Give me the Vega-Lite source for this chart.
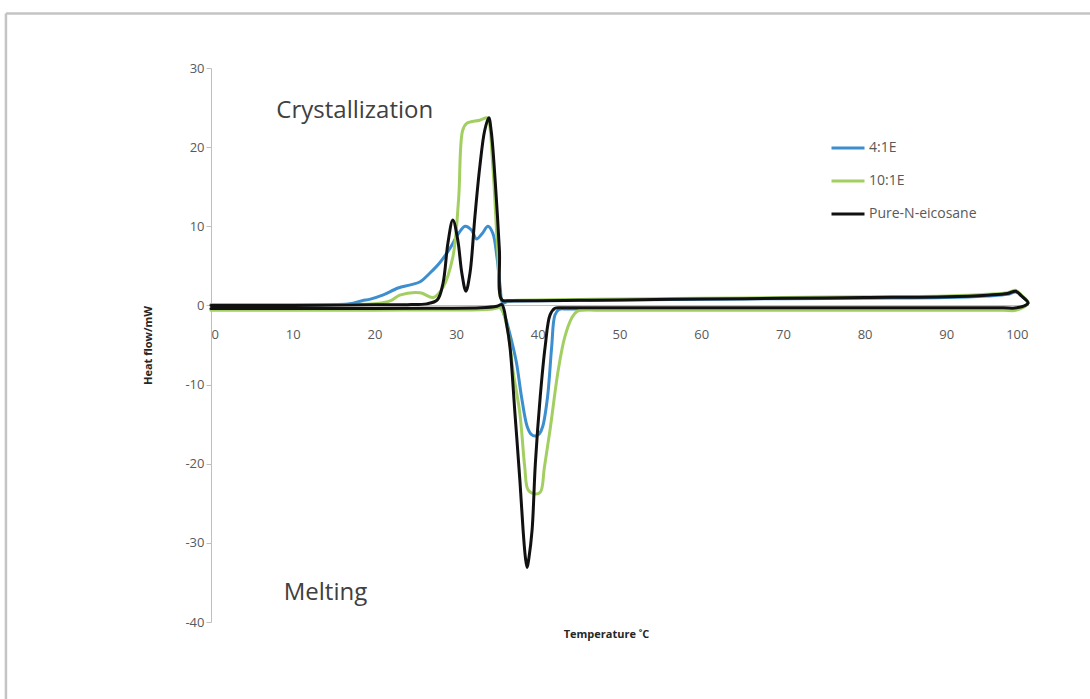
{
  "$schema": "https://vega.github.io/schema/vega-lite/v6.json",
  "width": 817,
  "height": 554,
  "autosize": {"type": "none"},
  "padding": {"left": 211, "top": 68, "right": 62, "bottom": 77},
  "background": "white",
  "config": {"view": {"stroke": null}, "font": "Open Sans"},
  "datasets": {
    "curves": [
      {"s":"4:1E","i":1,"T":0,"Q":-0.45},{"s":"4:1E","i":2,"T":10,"Q":-0.45},{"s":"4:1E","i":3,"T":20,"Q":-0.45},{"s":"4:1E","i":4,"T":30,"Q":-0.42},
      {"s":"4:1E","i":5,"T":33,"Q":-0.4},{"s":"4:1E","i":6,"T":34.5,"Q":-0.35},{"s":"4:1E","i":7,"T":35.4,"Q":-0.3},{"s":"4:1E","i":8,"T":36,"Q":-1.5},
      {"s":"4:1E","i":9,"T":36.8,"Q":-4.5},{"s":"4:1E","i":10,"T":37.4,"Q":-7.3},{"s":"4:1E","i":11,"T":38,"Q":-11.5},{"s":"4:1E","i":12,"T":38.7,"Q":-15.3},
      {"s":"4:1E","i":13,"T":39.2,"Q":-16.3},{"s":"4:1E","i":14,"T":39.7,"Q":-16.5},{"s":"4:1E","i":15,"T":40.2,"Q":-16.2},{"s":"4:1E","i":16,"T":40.6,"Q":-15.3},
      {"s":"4:1E","i":17,"T":41.2,"Q":-11.5},{"s":"4:1E","i":18,"T":41.7,"Q":-5.2},{"s":"4:1E","i":19,"T":42.1,"Q":-1.2},{"s":"4:1E","i":20,"T":42.6,"Q":-0.5},
      {"s":"4:1E","i":21,"T":43.5,"Q":-0.45},{"s":"4:1E","i":22,"T":45,"Q":-0.45},{"s":"4:1E","i":23,"T":50,"Q":-0.45},{"s":"4:1E","i":24,"T":60,"Q":-0.45},
      {"s":"4:1E","i":25,"T":70,"Q":-0.45},{"s":"4:1E","i":26,"T":80,"Q":-0.45},{"s":"4:1E","i":27,"T":90,"Q":-0.45},{"s":"4:1E","i":28,"T":97,"Q":-0.45},
      {"s":"4:1E","i":29,"T":98.6,"Q":-0.45},{"s":"4:1E","i":30,"T":100,"Q":0.3},{"s":"4:1E","i":31,"T":99.2,"Q":1.2},{"s":"4:1E","i":32,"T":98.5,"Q":1.7},
      {"s":"4:1E","i":33,"T":97.5,"Q":1.4},{"s":"4:1E","i":34,"T":95,"Q":1.2},{"s":"4:1E","i":35,"T":90,"Q":1.0},{"s":"4:1E","i":36,"T":80,"Q":0.92},
      {"s":"4:1E","i":37,"T":70,"Q":0.85},{"s":"4:1E","i":38,"T":60,"Q":0.78},{"s":"4:1E","i":39,"T":50,"Q":0.7},{"s":"4:1E","i":40,"T":45,"Q":0.65},
      {"s":"4:1E","i":41,"T":40,"Q":0.6},{"s":"4:1E","i":42,"T":37.5,"Q":0.55},{"s":"4:1E","i":43,"T":36.3,"Q":0.5},{"s":"4:1E","i":44,"T":35.7,"Q":0.3},
      {"s":"4:1E","i":45,"T":35.4,"Q":2.3},{"s":"4:1E","i":46,"T":35,"Q":6.1},{"s":"4:1E","i":47,"T":34.5,"Q":9.1},{"s":"4:1E","i":48,"T":33.9,"Q":10},
      {"s":"4:1E","i":49,"T":33.2,"Q":9.1},{"s":"4:1E","i":50,"T":32.5,"Q":8.4},{"s":"4:1E","i":51,"T":31.9,"Q":9.5},{"s":"4:1E","i":52,"T":31.1,"Q":10},
      {"s":"4:1E","i":53,"T":30.3,"Q":9.1},{"s":"4:1E","i":54,"T":29.3,"Q":7.3},{"s":"4:1E","i":55,"T":28,"Q":5.4},{"s":"4:1E","i":56,"T":26.8,"Q":4.1},
      {"s":"4:1E","i":57,"T":25.6,"Q":3.0},{"s":"4:1E","i":58,"T":24.4,"Q":2.6},{"s":"4:1E","i":59,"T":22.9,"Q":2.2},{"s":"4:1E","i":60,"T":21,"Q":1.3},
      {"s":"4:1E","i":61,"T":19.5,"Q":0.8},{"s":"4:1E","i":62,"T":18.5,"Q":0.6},{"s":"4:1E","i":63,"T":17,"Q":0.2},{"s":"4:1E","i":64,"T":15,"Q":0.12},
      {"s":"4:1E","i":65,"T":10,"Q":0.1},{"s":"4:1E","i":66,"T":5,"Q":0.1},{"s":"4:1E","i":67,"T":0,"Q":0.1},

      {"s":"10:1E","i":1,"T":0,"Q":-0.6},{"s":"10:1E","i":2,"T":10,"Q":-0.6},{"s":"10:1E","i":3,"T":20,"Q":-0.6},{"s":"10:1E","i":4,"T":30,"Q":-0.57},
      {"s":"10:1E","i":5,"T":33,"Q":-0.55},{"s":"10:1E","i":6,"T":34.5,"Q":-0.45},{"s":"10:1E","i":7,"T":35.4,"Q":-0.3},{"s":"10:1E","i":8,"T":36.2,"Q":-2.5},
      {"s":"10:1E","i":9,"T":37,"Q":-8.5},{"s":"10:1E","i":10,"T":37.8,"Q":-13.6},{"s":"10:1E","i":11,"T":38.4,"Q":-20.4},{"s":"10:1E","i":12,"T":38.8,"Q":-23.3},
      {"s":"10:1E","i":13,"T":39.5,"Q":-23.8},{"s":"10:1E","i":14,"T":40.3,"Q":-23.6},{"s":"10:1E","i":15,"T":40.8,"Q":-20.5},{"s":"10:1E","i":16,"T":41.5,"Q":-15.7},
      {"s":"10:1E","i":17,"T":42.5,"Q":-8.2},{"s":"10:1E","i":18,"T":43.3,"Q":-4},{"s":"10:1E","i":19,"T":44.2,"Q":-1.5},{"s":"10:1E","i":20,"T":44.8,"Q":-0.75},
      {"s":"10:1E","i":21,"T":45.5,"Q":-0.6},{"s":"10:1E","i":22,"T":47,"Q":-0.6},{"s":"10:1E","i":23,"T":50,"Q":-0.6},{"s":"10:1E","i":24,"T":60,"Q":-0.6},
      {"s":"10:1E","i":25,"T":70,"Q":-0.6},{"s":"10:1E","i":26,"T":80,"Q":-0.6},{"s":"10:1E","i":27,"T":90,"Q":-0.6},{"s":"10:1E","i":28,"T":97,"Q":-0.6},
      {"s":"10:1E","i":29,"T":98.6,"Q":-0.6},{"s":"10:1E","i":30,"T":100,"Q":0.3},{"s":"10:1E","i":31,"T":99.2,"Q":1.3},{"s":"10:1E","i":32,"T":98.5,"Q":1.9},
      {"s":"10:1E","i":33,"T":97.5,"Q":1.6},{"s":"10:1E","i":34,"T":95,"Q":1.4},{"s":"10:1E","i":35,"T":90,"Q":1.2},{"s":"10:1E","i":36,"T":80,"Q":1.1},
      {"s":"10:1E","i":37,"T":70,"Q":1.0},{"s":"10:1E","i":38,"T":60,"Q":0.9},{"s":"10:1E","i":39,"T":50,"Q":0.8},{"s":"10:1E","i":40,"T":45,"Q":0.75},
      {"s":"10:1E","i":41,"T":40,"Q":0.7},{"s":"10:1E","i":42,"T":37.5,"Q":0.65},{"s":"10:1E","i":43,"T":36.3,"Q":0.6},{"s":"10:1E","i":44,"T":35.6,"Q":0.7},
      {"s":"10:1E","i":45,"T":35.1,"Q":7},{"s":"10:1E","i":46,"T":34.5,"Q":17.5},{"s":"10:1E","i":47,"T":34,"Q":23.4},{"s":"10:1E","i":48,"T":33.8,"Q":23.7},
      {"s":"10:1E","i":49,"T":32.9,"Q":23.4},{"s":"10:1E","i":50,"T":31.3,"Q":23},{"s":"10:1E","i":51,"T":30.8,"Q":22.1},{"s":"10:1E","i":52,"T":30.3,"Q":13.3},
      {"s":"10:1E","i":53,"T":29.6,"Q":6.1},{"s":"10:1E","i":54,"T":28.4,"Q":2.3},{"s":"10:1E","i":55,"T":27.2,"Q":1.0},{"s":"10:1E","i":56,"T":25.6,"Q":1.6},
      {"s":"10:1E","i":57,"T":23.1,"Q":1.3},{"s":"10:1E","i":58,"T":22,"Q":0.6},{"s":"10:1E","i":59,"T":20,"Q":0.2},{"s":"10:1E","i":60,"T":15,"Q":0.12},
      {"s":"10:1E","i":61,"T":10,"Q":0.1},{"s":"10:1E","i":62,"T":5,"Q":0.1},{"s":"10:1E","i":63,"T":0,"Q":0.1},

      {"s":"Pure-N-eicosane","i":1,"T":0,"Q":-0.4},{"s":"Pure-N-eicosane","i":2,"T":10,"Q":-0.4},{"s":"Pure-N-eicosane","i":3,"T":20,"Q":-0.4},{"s":"Pure-N-eicosane","i":4,"T":27,"Q":-0.35},
      {"s":"Pure-N-eicosane","i":5,"T":33,"Q":-0.3},{"s":"Pure-N-eicosane","i":6,"T":35,"Q":-0.1},{"s":"Pure-N-eicosane","i":7,"T":35.6,"Q":0.1},{"s":"Pure-N-eicosane","i":8,"T":36.2,"Q":-2.5},
      {"s":"Pure-N-eicosane","i":9,"T":36.6,"Q":-5.3},{"s":"Pure-N-eicosane","i":10,"T":37.2,"Q":-13.6},{"s":"Pure-N-eicosane","i":11,"T":37.8,"Q":-22},{"s":"Pure-N-eicosane","i":12,"T":38.2,"Q":-28.4},
      {"s":"Pure-N-eicosane","i":13,"T":38.5,"Q":-32},{"s":"Pure-N-eicosane","i":14,"T":38.7,"Q":-33.1},{"s":"Pure-N-eicosane","i":15,"T":38.9,"Q":-32},{"s":"Pure-N-eicosane","i":16,"T":39.3,"Q":-28.4},
      {"s":"Pure-N-eicosane","i":17,"T":39.7,"Q":-20},{"s":"Pure-N-eicosane","i":18,"T":40.3,"Q":-11.5},{"s":"Pure-N-eicosane","i":19,"T":40.9,"Q":-5.2},{"s":"Pure-N-eicosane","i":20,"T":41.5,"Q":-1.2},
      {"s":"Pure-N-eicosane","i":21,"T":42.1,"Q":-0.35},{"s":"Pure-N-eicosane","i":22,"T":43,"Q":-0.3},{"s":"Pure-N-eicosane","i":23,"T":45,"Q":-0.3},{"s":"Pure-N-eicosane","i":24,"T":50,"Q":-0.3},
      {"s":"Pure-N-eicosane","i":25,"T":60,"Q":-0.3},{"s":"Pure-N-eicosane","i":26,"T":70,"Q":-0.3},{"s":"Pure-N-eicosane","i":27,"T":80,"Q":-0.3},{"s":"Pure-N-eicosane","i":28,"T":90,"Q":-0.3},
      {"s":"Pure-N-eicosane","i":29,"T":97,"Q":-0.3},{"s":"Pure-N-eicosane","i":30,"T":98.6,"Q":-0.3},{"s":"Pure-N-eicosane","i":31,"T":100,"Q":0.3},{"s":"Pure-N-eicosane","i":32,"T":99.2,"Q":1.2},
      {"s":"Pure-N-eicosane","i":33,"T":98.5,"Q":1.8},{"s":"Pure-N-eicosane","i":34,"T":97.5,"Q":1.5},{"s":"Pure-N-eicosane","i":35,"T":95,"Q":1.3},{"s":"Pure-N-eicosane","i":36,"T":90,"Q":1.1},
      {"s":"Pure-N-eicosane","i":37,"T":80,"Q":1.0},{"s":"Pure-N-eicosane","i":38,"T":70,"Q":0.9},{"s":"Pure-N-eicosane","i":39,"T":60,"Q":0.8},{"s":"Pure-N-eicosane","i":40,"T":50,"Q":0.7},
      {"s":"Pure-N-eicosane","i":41,"T":45,"Q":0.65},{"s":"Pure-N-eicosane","i":42,"T":40,"Q":0.6},{"s":"Pure-N-eicosane","i":43,"T":37.5,"Q":0.6},{"s":"Pure-N-eicosane","i":44,"T":36.5,"Q":0.6},
      {"s":"Pure-N-eicosane","i":45,"T":35.6,"Q":0.7},{"s":"Pure-N-eicosane","i":46,"T":35.3,"Q":7},{"s":"Pure-N-eicosane","i":47,"T":34.8,"Q":15.5},{"s":"Pure-N-eicosane","i":48,"T":34.3,"Q":22},
      {"s":"Pure-N-eicosane","i":49,"T":34,"Q":23.7},{"s":"Pure-N-eicosane","i":50,"T":33.5,"Q":22.1},{"s":"Pure-N-eicosane","i":51,"T":32.9,"Q":17.5},{"s":"Pure-N-eicosane","i":52,"T":32.3,"Q":11.2},
      {"s":"Pure-N-eicosane","i":53,"T":31.7,"Q":4.1},{"s":"Pure-N-eicosane","i":54,"T":31.2,"Q":1.8},{"s":"Pure-N-eicosane","i":55,"T":30.7,"Q":4.1},{"s":"Pure-N-eicosane","i":56,"T":30.2,"Q":8.3},
      {"s":"Pure-N-eicosane","i":57,"T":29.6,"Q":10.8},{"s":"Pure-N-eicosane","i":58,"T":29,"Q":7.9},{"s":"Pure-N-eicosane","i":59,"T":28.4,"Q":2.8},{"s":"Pure-N-eicosane","i":60,"T":27.7,"Q":0.7},
      {"s":"Pure-N-eicosane","i":61,"T":26.4,"Q":0.2},{"s":"Pure-N-eicosane","i":62,"T":24,"Q":0.1},{"s":"Pure-N-eicosane","i":63,"T":20,"Q":0.1},{"s":"Pure-N-eicosane","i":64,"T":10,"Q":0},
      {"s":"Pure-N-eicosane","i":65,"T":0,"Q":0}
    ],
    "notes": [
      {"label": "Crystallization", "T": 8.0, "Q": 24.6},
      {"label": "Melting", "T": 8.9, "Q": -36.3}
    ],
    "one": [{}]
  },
  "layer": [
    {
      "data": {"name": "one"},
      "mark": {"type": "rule", "color": "#c4c4c4", "strokeWidth": 2.5, "clip": false},
      "encoding": {
        "x": {"datum": -25.1, "type": "quantitative"},
        "y": {"datum": -60, "type": "quantitative"},
        "y2": {"datum": 36.9}
      }
    },
    {
      "data": {"name": "one"},
      "mark": {"type": "rule", "color": "#c4c4c4", "strokeWidth": 2.5, "clip": false},
      "encoding": {
        "y": {"datum": 36.9, "type": "quantitative"},
        "x": {"datum": -25.1, "type": "quantitative"},
        "x2": {"datum": 130}
      }
    },
    {
      "data": {"name": "curves"},
      "mark": {"type": "line", "strokeWidth": 3, "interpolate": "catmull-rom", "strokeJoin": "round", "strokeCap": "round"},
      "encoding": {
        "x": {
          "field": "T", "type": "quantitative",
          "scale": {"domain": [0, 100], "nice": false, "zero": false},
          "axis": {
            "values": [0,10,20,30,40,50,60,70,80,90,100],
            "offset": -317,
            "ticks": false,
            "grid": false,
            "domainColor": "#bfbfbf",
            "labelColor": "#595959",
            "labelFontSize": 13,
            "labelPadding": 23,
            "title": "Temperature \u02daC",
            "titleFontSize": 11,
            "titleFontWeight": "bold",
            "titleColor": "#262626",
            "titleX": 395,
            "titleY": 329,
            "titleBaseline": "middle",
            "titleAnchor": "middle",
            "titleAlign": "center"
          }
        },
        "y": {
          "field": "Q", "type": "quantitative",
          "scale": {"domain": [-40, 30], "nice": false, "zero": false},
          "axis": {
            "values": [-40,-30,-20,-10,0,10,20,30],
            "labelExpr": "replace(datum.label, '\u2212', '-')",
            "grid": false,
            "domainColor": "#bfbfbf",
            "tickColor": "#bfbfbf",
            "tickSize": 5,
            "labelColor": "#595959",
            "labelFontSize": 13,
            "labelPadding": 2,
            "title": "Heat flow/mW",
            "titleFontSize": 11,
            "titleFontWeight": "bold",
            "titleColor": "#262626",
            "titleX": -63,
            "titleY": 277,
            "titleAngle": -90,
            "titleBaseline": "middle",
            "titleAlign": "center"
          }
        },
        "color": {
          "field": "s", "type": "nominal",
          "scale": {"domain": ["4:1E", "10:1E", "Pure-N-eicosane"], "range": ["#3d8ecf", "#a3cf62", "#111111"]},
          "legend": {
            "title": null,
            "orient": "none",
            "legendX": 619,
            "legendY": 62,
            "symbolType": "stroke",
            "symbolSize": 1089,
            "symbolStrokeWidth": 3,
            "labelFontSize": 14,
            "labelColor": "#595959",
            "labelOffset": 3,
            "rowPadding": 8
          }
        },
        "order": {"field": "i", "type": "quantitative"}
      }
    },
    {
      "data": {"name": "notes"},
      "mark": {"type": "text", "align": "left", "baseline": "middle", "fontSize": 24, "color": "#404040", "font": "Open Sans"},
      "encoding": {
        "x": {"field": "T", "type": "quantitative"},
        "y": {"field": "Q", "type": "quantitative"},
        "text": {"field": "label"}
      }
    }
  ]
}
